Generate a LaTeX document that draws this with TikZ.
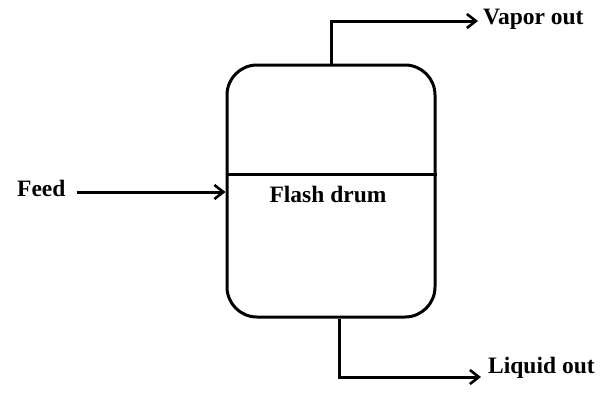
\documentclass[tikz,border=0pt]{standalone}
\usepackage{fontspec}
\setmainfont{Liberation Serif}
\usetikzlibrary{arrows.meta,positioning}

\tikzset{
  lbl/.style={font=\fontsize{23.5}{25}\selectfont\bfseries, inner sep=0pt},
  flow/.style={line width=3pt, -{Straight Barb[length=9pt,width=14pt,line width=2.6pt]}},
  vessel/.style={draw, line width=3pt, rounded corners=30pt, minimum width=208pt, minimum height=252pt}
}

\begin{document}
\begin{tikzpicture}[x=1pt,y=-1pt]
		\useasboundingbox (0,0) rectangle (604,400);
		\node[vessel] (drum) at (331,191) {};
		\draw[line width=3pt] ([yshift=17pt]drum.west) -- ([yshift=17pt]drum.east);
		\node[lbl] (name) at (328,194) {Flash drum};
		\node[lbl,anchor=west] (feed) at (17,188) {Feed};
		\node[lbl,anchor=west] (vapor) at (483,19) {Vapor out};
		\node[lbl,anchor=west] (liquid) at (488,368) {Liquid out};
		\draw[flow] ([xshift=11pt,yshift=-4pt]feed.east) -- ([yshift=-4pt]feed.east -| drum.west);
		\draw[flow] (drum.north) |- ([xshift=-5pt,yshift=-2pt]vapor.west);
		\draw[flow] ([xshift=8pt]drum.south) |- ([xshift=-7pt,yshift=-9pt]liquid.west);
	\end{tikzpicture}
\end{document}
